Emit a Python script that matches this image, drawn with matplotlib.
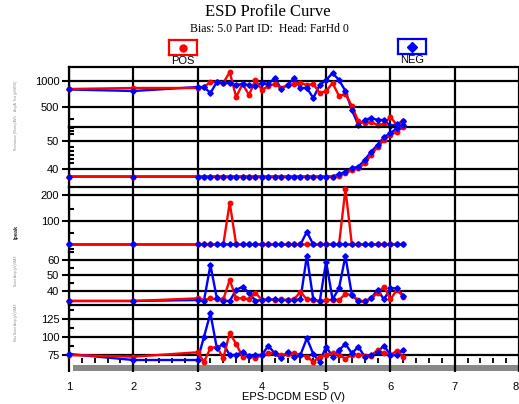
from matplotlib import pyplot as plt
from matplotlib.ticker import NullFormatter
import numpy as np

plt.rcParams['font.family'] = ['Liberation Sans', 'DejaVu Sans']

# ESD step voltage (V)
esd_v = [1.0, 2.0, 3.0, 3.1, 3.2, 3.3, 3.4, 3.5, 3.6, 3.7, 3.8, 3.9,
         4.0, 4.1, 4.2, 4.3, 4.4, 4.5, 4.6, 4.7, 4.8, 4.9,
         5.0, 5.1, 5.2, 5.3, 5.4, 5.5, 5.6, 5.7, 5.8, 5.9,
         6.0, 6.1, 6.2]

# Avg At Test
amp_pos = [808, 830, 830, 852, 974, 974, 948, 1271, 653, 923, 689, 1027,
           787, 875, 923, 830, 899, 923, 948, 899, 923, 726,
           766, 948, 671, 707, 514, 344, 326, 335, 310, 318,
           383, 310, 344]
amp_neg = [798, 766, 852, 852, 726, 974, 948, 948, 899, 923, 899, 875,
           948, 923, 1083, 808, 899, 1083, 830, 830, 636, 899,
           1027, 1237, 1027, 766, 462, 310, 354, 373, 354, 354,
           302, 318, 344]

# Resistance AVG
res_pos = [37.3, 37.3, 37.3, 37.3, 37.3, 37.3, 37.3, 37.3, 37.3, 37.3, 37.3, 37.3,
           37.3, 37.3, 37.3, 37.3, 37.3, 37.3, 37.3, 37.3, 37.3, 37.3,
           37.3, 37.3, 37.6, 38.5, 39.6, 40.3, 42.0, 45.0, 47.8, 50.4,
           52.1, 53.3, 55.1]
res_neg = [37.3, 37.3, 37.3, 37.3, 37.3, 37.3, 37.3, 37.3, 37.3, 37.3, 37.3, 37.3,
           37.3, 37.3, 37.3, 37.3, 37.3, 37.3, 37.3, 37.3, 37.3, 37.3,
           37.3, 37.3, 38.1, 39.0, 40.3, 40.8, 43.2, 46.2, 48.6, 51.3,
           52.8, 54.5, 55.7]

# Ipeak
ipk_pos = [53.5, 53.5, 53.5, 53.5, 53.5, 53.5, 53.5, 163, 53.5, 53.5, 53.5, 53.5,
           53.5, 53.5, 53.5, 53.5, 53.5, 53.5, 53.5, 53.5, 53.5, 53.5,
           53.5, 53.5, 53.5, 233, 53.5, 53.5, 53.5, 53.5, 53.5, 53.5,
           53.5, 53.5, 53.5]
ipk_neg = [53.5, 53.5, 53.5, 53.5, 53.5, 53.5, 53.5, 53.5, 53.5, 53.5, 53.5, 53.5,
           53.5, 53.5, 53.5, 53.5, 53.5, 53.5, 53.5, 75, 53.5, 53.5,
           53.5, 53.5, 53.5, 53.5, 53.5, 53.5, 53.5, 53.5, 53.5, 53.5,
           53.5, 53.5, 53.5]

# Noise Amp MAX
noise_pos = [33.3, 33.3, 35.0, 33.9, 35.0, 34.3, 34.3, 47.0, 35.0, 35.0, 34.3, 38.7,
             33.9, 34.3, 33.9, 34.3, 33.9, 34.3, 39.3, 34.3, 34.0, 33.0,
             33.9, 34.0, 33.9, 37.9, 37.2, 33.9, 33.0, 35.2, 38.3, 42.6,
             34.3, 40.5, 36.1]
noise_neg = [33.3, 33.3, 33.9, 33.6, 56.7, 35.0, 33.5, 33.3, 40.5, 42.6, 38.5, 33.5,
             33.9, 34.3, 34.3, 33.9, 33.9, 33.9, 34.3, 62.6, 34.3, 33.0,
             58.9, 34.3, 41.6, 62.6, 37.2, 33.0, 33.0, 35.2, 40.5, 34.3,
             41.6, 41.6, 36.5]

# Max Noise Amp MAX
maxn_pos = [75, 72.6, 78.8, 65.6, 84.4, 86.6, 70.4, 106.2, 90.4, 72.6, 74, 70.4,
            75, 77.3, 78, 75, 76.4, 77.3, 75, 72.6, 65.6, 72.6,
            75, 77.3, 75, 70, 75, 75, 74, 74, 82, 77.3,
            75, 80.8, 72.6]
maxn_neg = [76.4, 68, 68, 100.6, 133.4, 84.4, 90.4, 75, 75, 79.6, 73, 75,
            75, 88, 77.3, 70.4, 79.6, 72.6, 75, 98.4, 76.4, 65.6,
            86.6, 72.6, 82, 90.4, 77.3, 86.6, 72.6, 75, 79.6, 88,
            75, 75, 82]

view_range = [1.06, 8.0]

W, H = 519, 404
fig = plt.figure(figsize=(W / 100, H / 100), dpi=100)


def rect(top, bottom):
    return [69 / W, 1 - bottom / H, 450 / W, (bottom - top) / H]


# top px, bottom px, scale, ylim, major ticks, minor ticks, pos, neg, top spine, side label
panels = [
    (67, 127, 'log', (293.6, 1452), [500, 1000], [363], amp_pos, amp_neg, True,
     'Avg At Test (pV/W/G)', 96),
    (127, 186.7, 'linear', (33.68, 55.0), [40, 50], [42, 43.5, 45, 46.5, 48, 52.5, 53.5, 54.5],
     res_pos, res_neg, True, 'Resistance (Ohms) AVG', 133),
    (186.7, 252, 'log', (43.8, 249.5), [100, 200], [47, 72, 137], ipk_pos, ipk_neg, True,
     'Ipeak', 232),
    (252, 305, 'linear', (30.68, 65.2), [40, 50, 60], [45, 55, 65], noise_pos, noise_neg, False,
     'Noise Amp (pV) MAX', 271),
    (305, 358, 'linear', (70.8, 145.0), [75, 100, 125], [87.5, 112.5, 137.5], maxn_pos, maxn_neg, True,
     'Max Noise Amp (pV) MAX', 322),
]

axes = []
for i, (top, bot, scale, lim, ticks, minor, pos, neg, show_top, lab, lab_y) in enumerate(panels):
    ax = fig.add_axes(rect(top, bot))
    ax.set_facecolor('none')
    ax.set_zorder(2 + i)
    ax.set_yscale(scale)
    ax.set_xlim(1, 8)
    ax.set_ylim(*lim)
    ax.set_xticks(range(1, 9))
    ax.set_yticks(ticks)
    ax.set_yticklabels([str(t) for t in ticks])
    ax.set_yticks(minor, minor=True)
    ax.yaxis.set_minor_formatter(NullFormatter())
    ax.grid(True, which='major', color='black', linewidth=1.6)
    ax.spines['right'].set_visible(False)
    ax.spines['bottom'].set_visible(False)
    ax.spines['top'].set_visible(show_top)
    ax.spines['top'].set_linewidth(1.6)
    ax.spines['left'].set_linewidth(1.6)
    ax.tick_params(axis='y', which='major', direction='out', length=5, width=1.5,
                   labelsize=8, pad=2)
    ax.tick_params(axis='y', which='minor', direction='in', length=3.6, width=1.5)
    ax.tick_params(axis='x', which='both', length=0, labelbottom=False)

    ax.plot(esd_v, neg, color='#0000ff', lw=1.7, clip_on=False, zorder=3)
    ax.plot(esd_v, pos, color='#ff0000', lw=1.7, clip_on=False, zorder=4)
    ax.plot(esd_v, pos, ls='none', marker='o', ms=3.2, color='#ff0000', clip_on=False, zorder=5)
    ax.plot(esd_v, neg, ls='none', marker='D', ms=2.8, color='#0000ff', clip_on=False, zorder=6)

    if lab == 'Ipeak':
        fig.text(16 / W, 1 - lab_y / H, lab, rotation=90, fontsize=4, fontweight='bold',
                 color='#222222', ha='center', va='center')
    else:
        fig.text(16 / W, 1 - lab_y / H, lab, rotation=90, fontsize=2.3,
                 color='#888888', ha='center', va='center')
    axes.append(ax)

# bottom x axis on last panel
ax = axes[-1]
ax.set_xticks(np.arange(1, 8.01, 0.2), minor=True)
ax.tick_params(axis='x', which='major', direction='out', length=10, width=1.6,
               labelbottom=True, labelsize=8, pad=7)
ax.tick_params(axis='x', which='minor', direction='out', length=3.6, width=1.3)
ax.get_xticklabels()[-1].set_horizontalalignment('right')

# grey range bar under the axis
bar_ax = fig.add_axes([69 / W, 1 - 370.7 / H, 450 / W, 5.7 / H])
bar_ax.set_zorder(0)
bar_ax.barh([0], [view_range[1] - view_range[0]], left=view_range[0], height=1,
            color='#888888')
bar_ax.set_xlim(1, 8)
bar_ax.set_ylim(-0.5, 0.5)
bar_ax.axis('off')

fig.text(293 / W, 1 - 397 / H, 'EPS-DCDM ESD (V)', fontsize=8, ha='center', va='center')

# titles
fig.text(268 / W, 1 - 12.5 / H, 'ESD Profile Curve', family='Liberation Serif',
         fontsize=12, ha='center', va='center')
fig.text(269 / W, 1 - 29 / H, 'Bias: 5.0 Part ID:  Head: FarHd 0', family='Liberation Serif',
         fontsize=8.5, ha='center', va='center')

# legend boxes
for x0, x1, y0, y1, col, mk, name in [(169, 197, 40, 55, '#ff0000', 'o', 'POS'),
                                      (398, 426, 39, 54, '#0000ff', 'D', 'NEG')]:
    lax = fig.add_axes([x0 / W, 1 - y1 / H, (x1 - x0) / W, (y1 - y0) / H])
    lax.set_xlim(-1, 1)
    lax.set_ylim(-1, 1)
    lax.plot([0], [0], marker=mk, ms=5, color=col)
    lax.set_xticks([])
    lax.set_yticks([])
    for s in lax.spines.values():
        s.set_color(col)
        s.set_linewidth(1.6)
    fig.text((x0 + x1) / 2 / W, 1 - (y1 + 6) / H, name, fontsize=8,
             ha='center', va='center')

fig.savefig('out.png', dpi=100)
